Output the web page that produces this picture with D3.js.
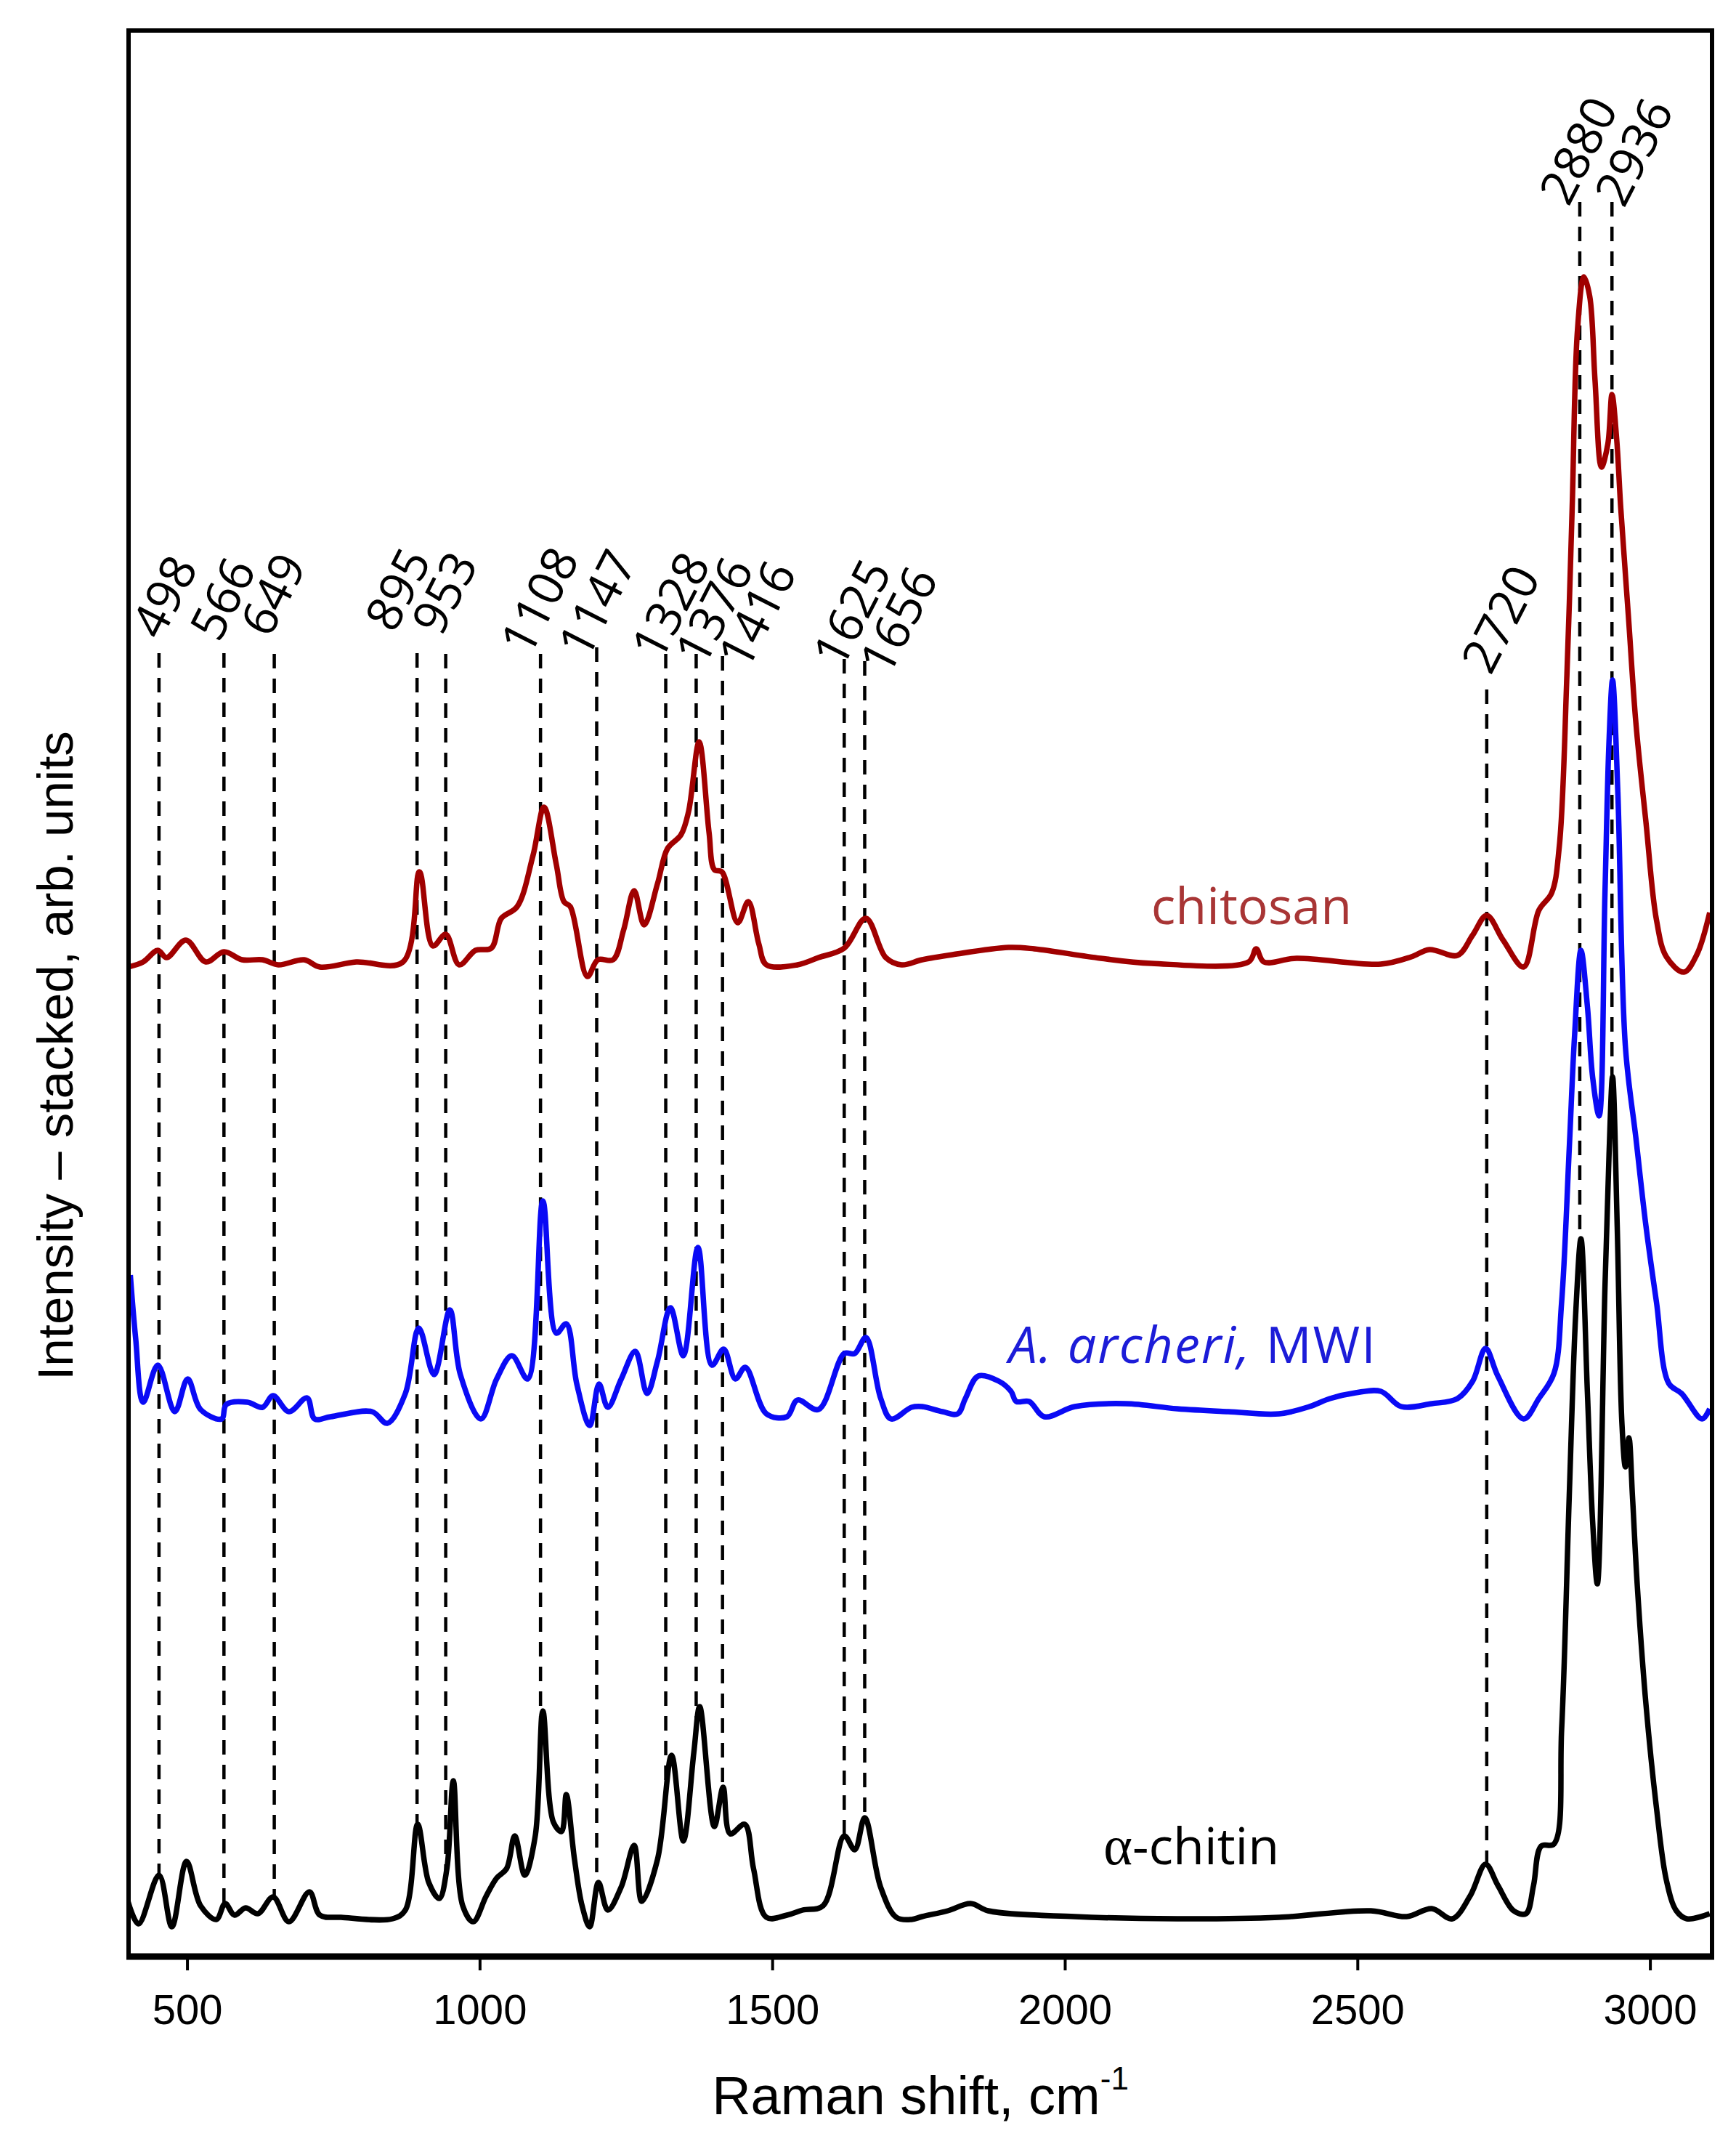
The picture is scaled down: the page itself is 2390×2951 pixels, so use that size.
<!DOCTYPE html>
<html>
<head>
<meta charset="utf-8">
<script src="https://cdn.jsdelivr.net/npm/d3@7"></script>
<style>
  body { margin: 0; background: #fff; }
  svg { display: block; }
</style>
</head>
<body>
<script>
// Raman shift (cm-1) and intensity above each trace's own baseline (arb. units)
const chitinShift = [399,417,452,474,499,523,550,565,581,600,621,647,674,709,727,763,851,873,894,913,931,944,955,971,989,1011,1029,1046,1060,1077,1095,1108,1126,1140,1148,1162,1175,1188,1203,1219,1242,1264,1277,1304,1328,1348,1366,1376,1401,1416,1428,1453,1468,1490,1525,1552,1587,1623,1641,1658,1685,1712,1738,
  1756,1800,1839,1869,2017,2192,2366,2523,2584,2627,2662,2693,2719,2740,2767,2788,2801,2814,2836,2849,2862,2873,2882,2893,2902,2910,2923,2930,2936,2944,2952,2958,2964,2970,2978,2993,3011,3028,3045,3063,3102];
const chitinInt = [2.2,-0.9,5.8,-1.3,7.7,1.6,-0.3,1.9,0.3,1.3,0.5,2.8,-0.6,3.5,0.3,0,-0.2,1.0,12.8,4.8,2.6,6.7,18.8,1.6,-0.6,2.9,5.4,6.7,11.2,5.8,11.2,28.4,13.1,11.8,16.9,8.0,1.6,-1.3,4.8,1.0,4.2,9.9,2.2,8.0,22.3,10.5,22.7,29.0,12.5,17.9,11.5,12.8,6.7,0,0.3,1.0,1.6,11.2,9.3,13.7,4.2,0,-0.3,
  0.1,0.9,1.9,0.9,0.1,-0.2,0,0.9,0.1,1.2,-0.2,3.0,7.3,4.4,0.9,0.5,4.4,9.8,10.1,25.9,58.0,83.0,93.4,72.3,54.4,45.9,86.6,105.0,115.7,95.0,68.0,62.0,66.0,58.0,46.0,29.4,15.1,5.1,0.9,-0.2,0.5];

const archeriShift = [403,412,425,450,479,501,523,559,567,603,629,647,674,705,718,745,816,842,873,896,922,949,967,1002,1029,1055,1082,1108,1131,1148,1166,1188,1204,1219,1242,1266,1286,1304,1326,1348,1373,1397,1417,1437,1454,1490,1525,1543,1579,1623,1641,1660,1685,1703,1738,
  1756,1791,1817,1830,1852,1887,1908,1917,1939,1965,2017,2104,2192,2279,2366,2418,2453,2497,2540,2575,2627,2671,2697,2719,2740,2784,2810,2836,2849,2862,2871,2882,2893,2902,2913,2923,2930,2936,2945,2958,2976,2993,3011,3032,3054,3089,3102];
const archeriInt = [18.7,10.1,1.2,6.3,-0.1,4.4,0.2,-1.1,0.9,1.2,0.5,2.1,-0.1,1.8,-1.1,-0.8,-0.1,-1.7,2.4,11.4,5.0,13.9,5.0,-1.1,4.4,7.6,4.4,28.9,10.7,12.0,3.7,-2.0,3.7,0.5,4.4,8.2,2.4,6.9,14.2,7.6,22.5,6.3,8.5,4.4,6.0,-0.4,-0.8,1.5,0.2,7.9,7.9,10.1,1.8,-1.1,0.5,
  0.6,-0.1,-0.4,1.7,4.8,4.1,2.7,1.3,1.3,-0.8,0.6,1.0,0.3,-0.1,-0.4,0.6,1.7,2.5,2.7,0.6,1.0,1.7,4.1,8.6,4.8,-1.1,1.7,5.2,15.0,36.1,51.5,63.4,55.7,45.9,40.6,71.1,92.2,100.6,85.2,50.1,37.5,25.5,15.0,3.8,2.4,-1.1,0.3];

const chitosanShift = [399,425,450,465,498,532,563,594,629,656,700,727,789,869,897,920,942,965,993,1020,1037,1064,1091,1110,1131,1144,1155,1184,1202,1228,1246,1264,1281,1304,1321,1344,1357,1375,1392,1401,1414,1441,1459,1477,1490,1543,1579,1623,1660,1694,1721,
  1756,1808,1904,1948,2061,2148,2314,2327,2340,2396,2540,2592,2623,2671,2697,2721,2749,2784,2810,2832,2845,2858,2867,2876,2887,2897,2906,2917,2928,2935,2943,2950,2963,2976,2993,3011,3028,3058,3080,3102];
const chitosanInt = [-0.7,0,1.6,0.6,3.0,0,1.4,0.3,0.3,-0.4,0.3,-0.7,0,0,12.4,2.2,3.8,-0.4,1.6,1.9,6.0,7.6,14.6,21.3,13.4,8.3,7.6,-2.0,0.3,0.3,4.4,9.8,5.1,10.8,15.6,17.5,20.7,30.3,17.8,12.7,12.4,5.4,8.3,2.5,-0.4,-0.4,0.6,1.9,6.0,0.6,-0.4,
  0.3,1.0,2.0,1.8,0.5,-0.2,0,1.8,0,0.5,-0.3,0.7,1.7,0.9,3.7,6.4,3.0,-0.7,7.1,9.5,15.9,39.5,62.5,86.9,94.3,91.6,80.1,68.1,71.3,78.1,72.0,62.5,47.7,32.8,19.3,5.8,0.7,-1.4,1.0,6.8];

// stacking offsets of the three traces (arb. units)
const traceOffsets = [5.3, 75.0, 136.8];
const traceNames = ["\u03b1-chitin", "A. archeri, MWI", "chitosan"];

// marked bands: where the dashed guides stand, their printed labels, and guide top level
const peakShift = [452,563,649,893,942,1104,1200,1318,1370,1415,1623,1658,2721,2880,2935];
const peakLabels = ["498","566","649","895","953","1108","1147","1328","1376","1416","1625","1656","2720","2880","2936"];
const peakTop = [179.3,179.3,179.2,179.3,179.2,179.2,180.1,179.2,179.2,178.9,178.5,178.2,174.3,241.4,241.4];

const xTicks = [500,1000,1500,2000,2500,3000];

// where the lowest point of each tilted label sits, relative to the top of its guide (px)
const labelDx = [4,-5,-5,-30,-5,-5,-3,3,21,44,7,43,7,-14,18];
const labelDy = [-19,-16,-23,-29,-25,-14,-1,-7,0,2,-4,3,-21,5,7];
const labelAngle = -63, labelSize = 67;

const W = 2390, H = 2951;
const pLeft = 177, pRight = 2357, pTop = 42, pBottom = 2692;

const x = d3.scaleLinear().domain([400, 3106]).range([pLeft, pRight]);
const y = d3.scaleLinear().domain([0, 265]).range([pBottom, pTop]);

const svg = d3.select("body").append("svg")
    .attr("width", W)
    .attr("height", H);

svg.append("defs").append("clipPath").attr("id", "plot")
  .append("rect")
    .attr("x", pLeft).attr("y", pTop)
    .attr("width", pRight - pLeft).attr("height", pBottom - pTop);

const traces = [
  { shift: chitinShift, val: chitinInt, off: traceOffsets[0], color: "#000000" },
  { shift: archeriShift, val: archeriInt, off: traceOffsets[1], color: "#0a0af5" },
  { shift: chitosanShift, val: chitosanInt, off: traceOffsets[2], color: "#a00000" }
];

// value of a trace at a given shift (linear between read points)
function valueAt(t, s) {
  const i = d3.bisectLeft(t.shift, s);
  if (i <= 0) return t.val[0] + t.off;
  if (i >= t.shift.length) return t.val[t.val.length - 1] + t.off;
  const s0 = t.shift[i - 1], s1 = t.shift[i];
  const k = (s - s0) / (s1 - s0);
  return t.val[i - 1] + k * (t.val[i] - t.val[i - 1]) + t.off;
}

// dashed guides, from above the traces down to the alpha-chitin trace
svg.append("g").selectAll("line")
  .data(peakShift)
  .enter().append("line")
    .attr("x1", d => x(d))
    .attr("x2", d => x(d))
    .attr("y1", (d, i) => y(peakTop[i]))
    .attr("y2", d => y(valueAt(traces[0], d)))
    .attr("stroke", "#000")
    .attr("stroke-width", 4.5)
    .attr("stroke-dasharray", "20,14");

// peak labels, tilted; the ink of a leading "1" starts further along the baseline
const ang = labelAngle * Math.PI / 180;
const ux = Math.cos(ang), uy = Math.sin(ang);
svg.append("g").selectAll("text")
  .data(peakLabels)
  .enter().append("text")
    .attr("transform", (d, i) => {
      const lead = (d[0] === "1" ? 0.33 : 0.05) * labelSize;
      const ox = x(peakShift[i]) + labelDx[i] - lead * ux;
      const oy = y(peakTop[i]) + labelDy[i] - lead * uy;
      return "translate(" + ox + "," + oy + ") rotate(" + labelAngle + ")";
    })
    .attr("font-family", "'Open Sans', sans-serif")
    .attr("font-size", labelSize)
    .attr("fill", "#000")
    .text(d => d);

// spectra
const line = d3.line()
    .x(d => x(d[0]))
    .y(d => y(d[1]))
    .curve(d3.curveCatmullRom.alpha(0.5));

svg.append("g").attr("clip-path", "url(#plot)")
  .selectAll("path")
  .data(traces)
  .enter().append("path")
    .attr("d", t => line(t.shift.map((s, i) => [s, t.val[i] + t.off])))
    .attr("fill", "none")
    .attr("stroke", t => t.color)
    .attr("stroke-width", 7.5)
    .attr("stroke-linejoin", "round");

// trace names
svg.append("text")
    .attr("x", x(2319)).attr("y", y(142.0))
    .attr("text-anchor", "middle")
    .attr("font-family", "'Open Sans', sans-serif")
    .attr("font-size", 70)
    .attr("fill", "#a83535")
    .text(traceNames[2]);

const arch = svg.append("text")
    .attr("x", x(1904)).attr("y", y(81.6))
    .attr("font-family", "'Open Sans', sans-serif")
    .attr("font-size", 70)
    .attr("letter-spacing", 2)
    .attr("fill", "#1c1cd8");
arch.append("tspan").attr("font-style", "italic").text("A. archeri,");
arch.append("tspan").text(" MWI");

// the Greek letter is set in a serif face, as in the source figure
const chit = svg.append("text")
    .attr("x", x(2066)).attr("y", y(12.6))
    .attr("font-family", "'Open Sans', sans-serif")
    .attr("font-size", 70)
    .attr("fill", "#000");
chit.append("tspan").attr("font-family", "'Liberation Serif', 'DejaVu Serif', serif").attr("font-size", 76).text(traceNames[0].slice(0, 1));
chit.append("tspan").text(traceNames[0].slice(1));

// x axis
const xAxis = d3.axisBottom(x)
    .tickValues(xTicks)
    .tickSize(20)
    .tickPadding(33)
    .tickFormat(d3.format("d"));

const gx = svg.append("g")
    .attr("transform", "translate(0," + pBottom + ")")
    .call(xAxis);
gx.select(".domain").remove();
gx.selectAll(".tick line").attr("stroke", "#000").attr("stroke-width", 4);
gx.selectAll(".tick text")
    .attr("font-family", "'Liberation Sans', Arial, sans-serif")
    .attr("font-size", 58)
    .attr("fill", "#000");

// frame
svg.append("rect")
    .attr("x", pLeft).attr("y", pTop)
    .attr("width", pRight - pLeft).attr("height", pBottom - pTop)
    .attr("fill", "none")
    .attr("stroke", "#000")
    .attr("stroke-width", 6);
svg.append("line")
    .attr("x1", pLeft - 3).attr("x2", pRight + 3)
    .attr("y1", pBottom + 1).attr("y2", pBottom + 1)
    .attr("stroke", "#000")
    .attr("stroke-width", 9);

// axis titles
const xt = svg.append("text")
    .attr("x", (pLeft + pRight) / 2).attr("y", 2910)
    .attr("text-anchor", "middle")
    .attr("font-family", "'Liberation Sans', Arial, sans-serif")
    .attr("font-size", 74)
    .attr("fill", "#000");
xt.append("tspan").text("Raman shift, cm");
xt.append("tspan").attr("dy", -34).attr("font-size", 44).text("-1");

svg.append("text")
    .attr("transform", "translate(100," + 1453 + ") rotate(-90)")
    .attr("text-anchor", "middle")
    .attr("font-family", "'Liberation Sans', Arial, sans-serif")
    .attr("font-size", 69)
    .attr("fill", "#000")
    .text("Intensity \u2013 stacked, arb. units");
</script>
</body>
</html>
